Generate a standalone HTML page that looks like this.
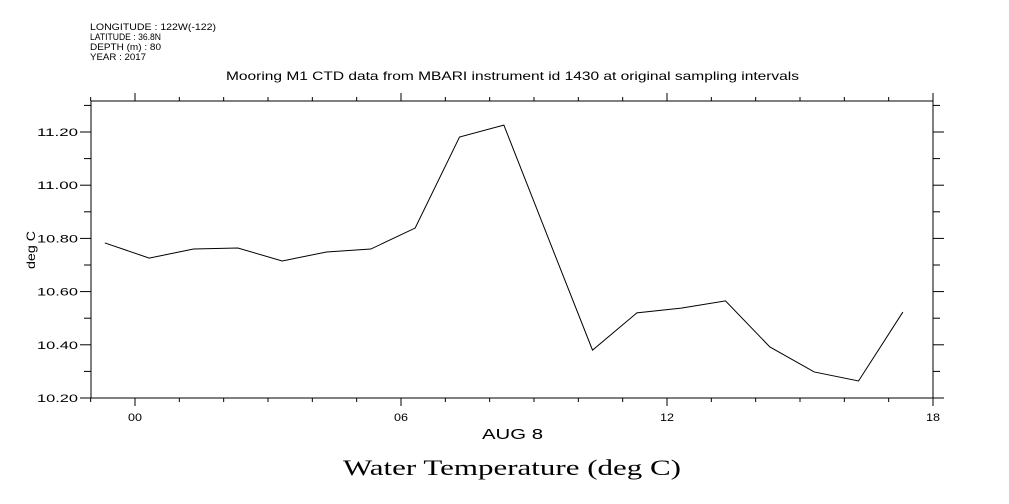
<!DOCTYPE html>
<html><head><meta charset="utf-8"><style>
body{margin:0;background:#fff;}
svg{display:block;font-family:"Liberation Sans",sans-serif;}
</style></head><body>
<svg id="chart" width="1009" height="504" xmlns="http://www.w3.org/2000/svg">
<g font-size="9" fill="#000">
<text x="90" y="30" textLength="126" lengthAdjust="spacingAndGlyphs">LONGITUDE : 122W(-122)</text>
<text x="90" y="40" textLength="71" lengthAdjust="spacingAndGlyphs">LATITUDE : 36.8N</text>
<text x="90" y="50" textLength="71" lengthAdjust="spacingAndGlyphs">DEPTH (m) : 80</text>
<text x="90" y="60" textLength="56" lengthAdjust="spacingAndGlyphs">YEAR : 2017</text>
</g>
<text x="226" y="80" font-size="12" textLength="573" lengthAdjust="spacingAndGlyphs">Mooring M1 CTD data from MBARI instrument id 1430 at original sampling intervals</text>
<rect x="91" y="101" width="842" height="297" fill="none" stroke="#000" stroke-width="1"/>
<g id="axes"></g>
<polyline id="series" fill="none" stroke="#000" stroke-width="1"/>
<text transform="translate(35,250) rotate(-90)" font-size="12" text-anchor="middle" textLength="38" lengthAdjust="spacingAndGlyphs">deg C</text>
<text x="482" y="439" font-size="15" textLength="61" lengthAdjust="spacingAndGlyphs">AUG  8</text>
<text x="343" y="475" font-size="22" font-family="Liberation Serif, serif" textLength="338" lengthAdjust="spacingAndGlyphs">Water Temperature (deg C)</text>
</svg>
<script>
const hours=[-0.68,0.32,1.32,2.32,3.32,4.32,5.32,6.32,7.32,8.32,9.32,10.32,11.32,12.32,13.32,14.32,15.32,16.32,17.32];
const temps=[10.783,10.726,10.760,10.764,10.715,10.749,10.760,10.839,11.181,11.226,10.802,10.380,10.520,10.538,10.565,10.392,10.298,10.264,10.523];
const xTickLabels=["00","06","12","18"];
const xTickHours=[0,6,12,18];
const yTickValues=[10.2,10.4,10.6,10.8,11.0,11.2];
const yTickLabels=["10.20","10.40","10.60","10.80","11.00","11.20"];
const NS="http://www.w3.org/2000/svg";
function xs(h){return 135+h*(266/6);}
function ys(v){return 398-(v-10.2)*266;}
const ax=document.getElementById('axes');
function line(x1,y1,x2,y2,name){const l=document.createElementNS(NS,'line');l.setAttribute('x1',x1);l.setAttribute('y1',y1);l.setAttribute('x2',x2);l.setAttribute('y2',y2);l.setAttribute('stroke','#000');


ax.appendChild(l);}
function text(x,y,s,anchor,name,len){const t=document.createElementNS(NS,'text');t.setAttribute('x',x);t.setAttribute('y',y);t.setAttribute('font-size','11');t.setAttribute('text-anchor',anchor);t.setAttribute('textLength',len);t.setAttribute('lengthAdjust','spacingAndGlyphs');t.textContent=s;


ax.appendChild(t);}
for(let h=-1;h<=18;h++){const x=xs(h);const major=h%6===0;const L=major?8:4;
line(x,398,x,398+L,'x-tick');line(x,101,x,101-L,'x-tick-top');}
xTickHours.forEach((h,i)=>text(xs(h),421,xTickLabels[i],'middle','x-tick-label',14));
for(let k=0;k<=11;k++){const v=10.2+k*0.1;const y=ys(v);if(y<101)continue;const major=k%2===0;const L=major?11:7;
line(91-L,y,91,y,'y-tick');line(933,y,933+L,y,'y-tick-right');}
yTickValues.forEach((v,i)=>text(78,ys(v)+4,yTickLabels[i],'end','y-tick-label',41));
document.getElementById('series').setAttribute('points',hours.map((h,i)=>xs(h)+','+ys(temps[i])).join(' '));
</script>
</body></html>
